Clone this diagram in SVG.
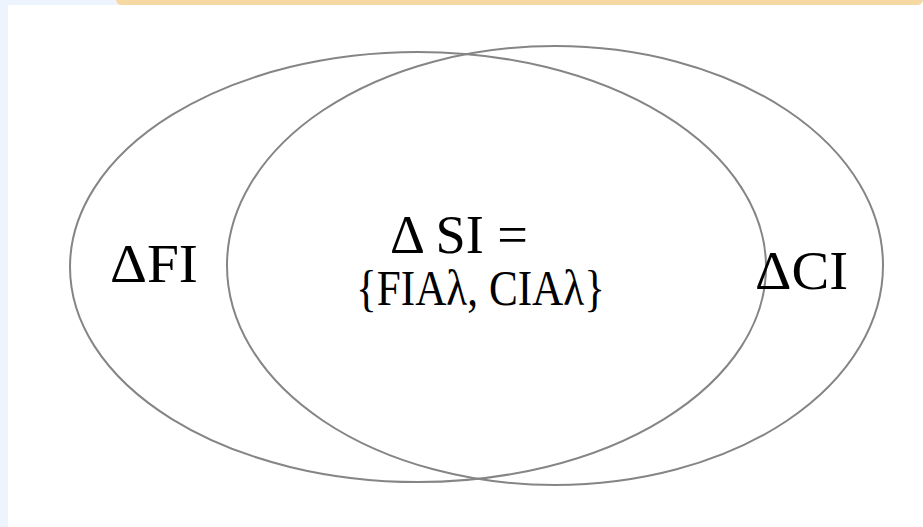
<svg xmlns="http://www.w3.org/2000/svg" width="923" height="527" viewBox="0 0 923 527">
<style>
.set{fill:none;stroke:#858585;stroke-width:2}
.lbl{font-family:"Liberation Serif","Times New Roman",serif;font-size:54px;fill:#000}
.lbl2{font-family:"Liberation Serif","Times New Roman",serif;font-size:50px;fill:#000}
</style>
<rect x="0" y="0" width="923" height="527" fill="#ffffff"/>
<rect x="0" y="0" width="8" height="527" fill="#eef4fd"/>
<rect x="0" y="0" width="120" height="5" fill="#eef4fd"/>
<rect x="116" y="-6" width="807" height="11" rx="6" fill="#f6d8a3"/>
<g id="set-FI">
<ellipse class="set" cx="418" cy="267" rx="348" ry="215"/>
</g>
<g id="set-CI">
<ellipse class="set" cx="555" cy="265.5" rx="328" ry="219.5"/>
</g>
<g id="label-FI"><text class="lbl" x="110" y="282" textLength="88" lengthAdjust="spacingAndGlyphs">ΔFI</text></g>
<g id="label-CI"><text class="lbl" x="755" y="289" textLength="93" lengthAdjust="spacingAndGlyphs">ΔCI</text></g>
<g id="label-SI">
<text class="lbl" x="390" y="253" textLength="138" lengthAdjust="spacingAndGlyphs">Δ SI =</text>
<text class="lbl2" x="356" y="305" textLength="249" lengthAdjust="spacingAndGlyphs">{FIAλ, CIAλ}</text>
</g>
</svg>
